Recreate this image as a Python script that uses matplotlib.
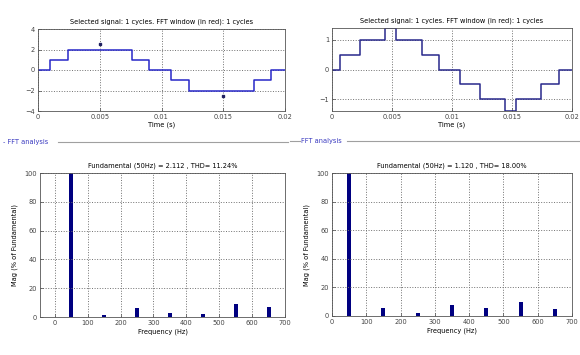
import matplotlib
matplotlib.use("Agg")
import matplotlib.pyplot as plt
from matplotlib.lines import Line2D

# ---- data ----
sig1_t = [0, 0.00095, 0.0024, 0.0076, 0.009, 0.0108, 0.0122, 0.0175, 0.0189, 0.02]
sig1_v = [0, 1, 2, 1, 0, -1, -2, -1, 0, 0]
mark1_t = [0.005, 0.015]
mark1_v = [2.5, -2.5]

sig2_t = [0, 0.00068, 0.0023, 0.0044, 0.0053, 0.0075, 0.0089, 0.0107, 0.0123,
          0.0144, 0.0153, 0.0174, 0.0189, 0.02]
sig2_v = [0, 0.5, 1, 1.4, 1, 0.5, 0, -0.5, -1, -1.4, -1, -0.5, 0, 0]

freqs = [0, 50, 100, 150, 200, 250, 300, 350, 400, 450, 500, 550, 600, 650]
mag1 = [0.3, 100, 0.3, 1.6, 0.3, 6.0, 0.3, 3.0, 0.3, 2.3, 0.3, 9.0, 0.3, 7.2]
mag2 = [0.3, 100, 0.3, 5.3, 0.3, 1.9, 0.3, 7.7, 0.3, 5.3, 0.3, 10.0, 0.3, 4.7]

sig_title = "Selected signal: 1 cycles. FFT window (in red): 1 cycles"
fft_title1 = "Fundamental (50Hz) = 2.112 , THD= 11.24%"
fft_title2 = "Fundamental (50Hz) = 1.120 , THD= 18.00%"

W, H = 580, 355
fig = plt.figure(figsize=(W / 100, H / 100), dpi=100)
fig.patch.set_facecolor("white")

def add_ax(x0, y0, x1, y1):
    return fig.add_axes([x0 / W, 1 - y1 / H, (x1 - x0) / W, (y1 - y0) / H])

FS = 4.8
GRID = dict(color="#707070", linestyle=":", linewidth=0.7)

def style(ax):
    ax.grid(True, **GRID)
    ax.tick_params(labelsize=FS, length=2, width=0.5, pad=2, direction="in", colors="#444444")
    for s in ax.spines.values():
        s.set_linewidth(0.6)
        s.set_color("#555555")

# top-left
ax1 = add_ax(38, 29, 285, 111)
ax1.step(sig1_t, sig1_v, where="post", color="#2727c8", lw=1.1)
ax1.plot(mark1_t, mark1_v, "s", color="#202060", ms=2)
ax1.set_xlim(0, 0.02)
ax1.set_ylim(-4, 4)
ax1.set_xticks([0, 0.005, 0.01, 0.015, 0.02])
ax1.set_xticklabels(["0", "0.005", "0.01", "0.015", "0.02"])
ax1.set_yticks([-4, -2, 0, 2, 4])
ax1.set_title(sig_title, fontsize=FS, pad=4)
ax1.set_xlabel("Time (s)", fontsize=FS, labelpad=1)
style(ax1)

# top-right
ax2 = add_ax(332, 28, 572, 111)
ax2.step(sig2_t, sig2_v, where="post", color="#28288c", lw=1.1)
ax2.set_xlim(0, 0.02)
ax2.set_ylim(-1.4, 1.4)
ax2.set_xticks([0, 0.005, 0.01, 0.015, 0.02])
ax2.set_xticklabels(["0", "0.005", "0.01", "0.015", "0.02"])
ax2.set_yticks([-1, 0, 1])
ax2.set_title(sig_title, fontsize=FS, pad=4)
ax2.set_xlabel("Time (s)", fontsize=FS, labelpad=1)
style(ax2)

# bottom-left
ax3 = add_ax(40, 173, 285, 317)
ax3.bar(freqs, mag1, width=12, color="#000080")
ax3.set_xlim(-45, 700)
ax3.set_ylim(0, 100)
ax3.set_xticks(range(0, 701, 100))
ax3.set_yticks(range(0, 101, 20))
ax3.set_title(fft_title1, fontsize=FS, pad=4)
ax3.set_xlabel("Frequency (Hz)", fontsize=FS, labelpad=2)
ax3.set_ylabel("Mag (% of Fundamental)", fontsize=FS, labelpad=5)
style(ax3)

# bottom-right
ax4 = add_ax(332, 173, 572, 316)
ax4.bar(freqs, mag2, width=12, color="#000080")
ax4.set_xlim(0, 700)
ax4.set_ylim(0, 100)
ax4.set_xticks(range(0, 701, 100))
ax4.set_yticks(range(0, 101, 20))
ax4.set_title(fft_title2, fontsize=FS, pad=4)
ax4.set_xlabel("Frequency (Hz)", fontsize=FS, labelpad=2)
ax4.set_ylabel("Mag (% of Fundamental)", fontsize=FS, labelpad=5)
style(ax4)

# "FFT analysis" panel separators
def fx(x):
    return x / W

def fy(y):
    return 1 - y / H

fig.text(fx(3), fy(142), "- FFT analysis", fontsize=FS, color="#3a3ac0", va="center")
fig.add_artist(Line2D([fx(58), fx(288)], [fy(142), fy(142)], color="#a0a0a0", lw=0.8))
fig.add_artist(Line2D([fx(290), fx(300)], [fy(141), fy(141)], color="#a0a0a0", lw=0.8))
fig.text(fx(301), fy(141), "FFT analysis", fontsize=FS, color="#3a3ac0", va="center")
fig.add_artist(Line2D([fx(347), fx(580)], [fy(141), fy(141)], color="#a0a0a0", lw=0.8))

fig.savefig("out.png", dpi=100, facecolor="white")
